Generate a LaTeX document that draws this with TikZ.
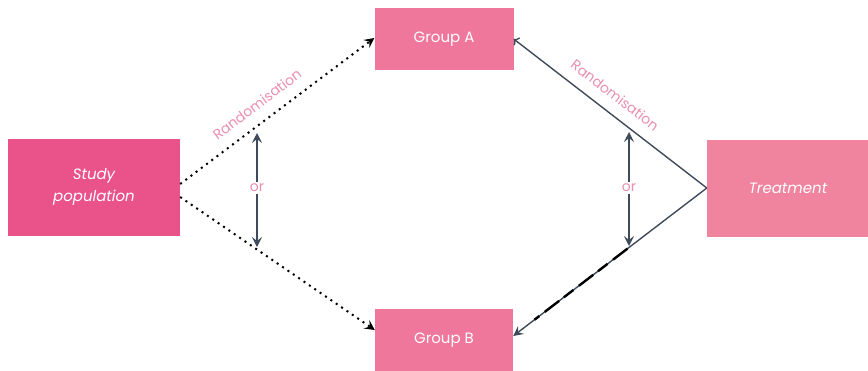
\documentclass[tikz,border=0pt]{standalone}
\usepackage{fontspec}
\setmainfont{Poppins}
\usetikzlibrary{positioning,arrows.meta,calc}
\definecolor{studypink}{HTML}{E9538A}
\definecolor{grppink}{HTML}{EE779B}
\definecolor{treatpink}{HTML}{F0849F}
\definecolor{labelpink}{HTML}{E98FB0}
\definecolor{slate}{HTML}{3F4B5B}

\begin{document}
\begin{tikzpicture}[x=1pt,y=-1pt,
        box/.style={fill=#1, text=white, inner sep=0pt, align=center,
            font=\fontsize{15}{22}\selectfont},
        tip/.style={-{Stealth[length=10pt,width=10pt,inset=4pt]}},
        dotline/.style={tip, line width=2pt, dash pattern=on 2pt off 4.5pt},
        solidline/.style={tip, slate, line width=1.4pt},
        orarrow/.style={{Stealth[length=10pt,width=10pt,inset=4pt]}-{Stealth[length=10pt,width=10pt,inset=4pt]}, slate, line width=1.4pt},
        randlabel/.style={labelpink, font=\fontsize{14}{16}\selectfont},
    ]
    \useasboundingbox (0,0) rectangle (868,370);

    \node [box=studypink, minimum width=172pt, minimum height=97pt] (study) at (94,187)
        {\itshape Study\\\itshape population};
    \node [box=grppink, minimum width=139pt, minimum height=62pt] (grpA) at (444,39) {Group A};
    \node [box=grppink, minimum width=138pt, minimum height=62pt] (grpB) at (444,340) {Group B};
    \node [box=treatpink, minimum width=162pt, minimum height=97pt] (treat) at (788,188)
        {\itshape Treatment};

    % randomisation of the study population
    \draw [dotline] ([yshift=3pt]study.east) -- node [randlabel, pos=0.45, sloped, above=8pt] {Randomisation}
        ([yshift=1pt]grpA.west);
    \draw [dotline] ([yshift=-10pt]study.east) -- ([yshift=10pt]grpB.west);

    % randomisation of the treatment
    \draw [solidline, <-] (grpA.east) -- node [randlabel, pos=0.47, sloped, above=8pt] {Randomisation}
        (treat.west);
    \draw [solidline] (treat.west) -- ([yshift=4pt]grpB.east);
    \draw [black, line width=2.4pt, dash pattern=on 18pt off 7pt on 12pt off 6pt]
        ($(treat.west)!0.41!([yshift=4pt]grpB.east)$) -- ($(treat.west)!0.89!([yshift=4pt]grpB.east)$);

    % or
    \coordinate (orLtop) at (257,133);
    \coordinate (orLbot) at (257,247);
    \coordinate (orRtop) at (629,132);
    \coordinate (orRbot) at (629,246);
    \draw [orarrow] (orLtop) -- (orLbot);
    \draw [orarrow] (orRtop) -- (orRbot);
    \node [randlabel, fill=white, inner sep=2pt] (orL) at (257,188) {or};
    \node [randlabel, fill=white, inner sep=2pt] (orR) at (629,188) {or};
\end{tikzpicture}
\end{document}
